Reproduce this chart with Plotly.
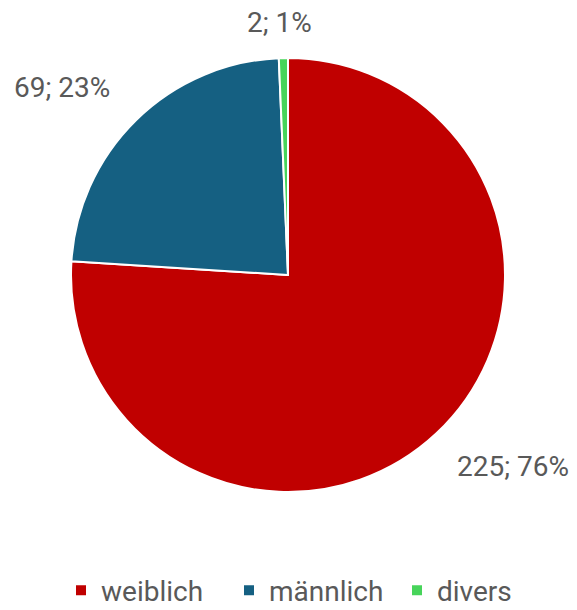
import plotly.graph_objects as go

categories = ["weiblich", "männlich", "divers"]
values = [225, 69, 2]
colors = ["#C00000", "#156082", "#47D45A"]

W, H = 577, 610
# label centre positions in pixels (layout only)
label_px = [(513, 466), (62, 87), (279, 23)]

total = sum(values)
fig = go.Figure()
fig.add_trace(go.Pie(
    labels=categories,
    values=values,
    marker=dict(colors=colors, line=dict(color="white", width=2)),
    sort=False,
    direction="clockwise",
    rotation=0,
    textinfo="none",
    hoverinfo="label+value+percent",
    domain=dict(x=[71 / W, 505 / W], y=[(H - 492) / H, (H - 58) / H]),
))

annotations = []
for v, (px, py) in zip(values, label_px):
    pct = round(100 * v / total)
    annotations.append(dict(
        text=f"{v}; {pct}%",
        x=px / W, y=1 - py / H, xref="paper", yref="paper",
        xanchor="center", yanchor="middle", showarrow=False,
        font=dict(size=28, color="#595959", family="Roboto"),
    ))

fig.update_layout(
    width=W, height=H,
    margin=dict(l=0, r=0, t=0, b=0, autoexpand=False),
    paper_bgcolor="white", plot_bgcolor="white",
    font=dict(family="Roboto", color="#595959", size=28),
    annotations=annotations,
    showlegend=True,
    legend=dict(orientation="h", x=61 / W, xanchor="left", y=-0.009, yanchor="bottom",
                font=dict(size=28, color="#595959", family="Roboto"),
                itemwidth=30, entrywidth=123, entrywidthmode="pixels"),
)

fig.write_html("out.html")
